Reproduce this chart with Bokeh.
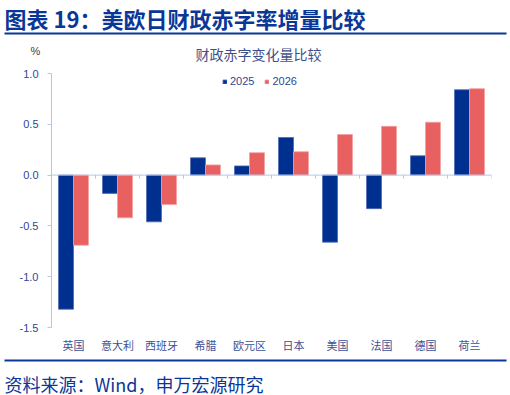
from bokeh.plotting import figure
from bokeh.layouts import column, row
from bokeh.models import (ColumnDataSource, FactorRange, Range1d, FixedTicker, Span, Label,
                          BoxAnnotation, Legend, LegendItem, NumeralTickFormatter)
from bokeh.transform import dodge
from bokeh.embed import file_html
from bokeh.resources import INLINE

categories = ["英国", "意大利", "西班牙", "希腊", "欧元区", "日本", "美国", "法国", "德国", "荷兰"]
v2025 = [-1.32, -0.18, -0.46, 0.17, 0.09, 0.37, -0.66, -0.33, 0.19, 0.84]
v2026 = [-0.69, -0.42, -0.29, 0.10, 0.22, 0.23, 0.40, 0.48, 0.52, 0.85]
y_ticks = [-1.5, -1.0, -0.5, 0.0, 0.5, 1.0]
series_names = ["2025", "2026"]

W = 510
H_HEAD, H_MAIN, H_FOOT = 65, 290, 40
BLUE = "#00308f"
RED = "#e86060"
AXIS_LINE = "#b4c7e7"
TXT = "#2b4896"
DARK = "#0a3797"
CJK = "Noto Sans CJK SC"


def blank(h):
    f = figure(width=W, height=h, x_range=Range1d(0, W), y_range=Range1d(h, 0), title=None,
               x_axis_type=None, y_axis_type=None, output_backend="svg", toolbar_location=None,
               min_border=0, min_border_left=0, min_border_right=0, min_border_top=0,
               min_border_bottom=0)
    f.outline_line_color = None
    f.grid.visible = False
    return f


# header: title, rule, chart title, unit
head = blank(H_HEAD)
head.add_layout(Label(x=4, y=17, text="图表 19：美欧日财政赤字率增量比较", text_font=CJK,
                      text_font_size="22px", text_font_style="bold", text_color=DARK,
                      text_baseline="middle", text_align="left"))
head.add_layout(BoxAnnotation(left=4, right=506, top=32, bottom=34,
                              fill_color=DARK, fill_alpha=1, line_color=None))
head.add_layout(Label(x=258, y=53, text="财政赤字变化量比较", text_font=CJK,
                      text_font_size="14px", text_color="#3d4f8a",
                      text_baseline="middle", text_align="center"))
head.add_layout(Label(x=35, y=50, text="%", text_font="Liberation Sans",
                      text_font_size="11px", text_color="#404040",
                      text_baseline="middle", text_align="center"))

# main chart
src = ColumnDataSource(dict(cat=categories, a=v2025, b=v2026))
p = figure(width=W, height=H_MAIN, x_range=FactorRange(factors=categories, range_padding=0),
           y_range=Range1d(y_ticks[0], y_ticks[-1]), title=None,
           output_backend="svg", toolbar_location=None,
           min_border_left=51, min_border_right=19, min_border_top=8, min_border_bottom=27)
p.outline_line_color = None
p.grid.visible = False

r1 = p.vbar(x=dodge("cat", -0.17, range=p.x_range), top="a", bottom=0, width=0.34, source=src,
            fill_color=BLUE, line_color="#4a69b4", line_width=0.8)
r2 = p.vbar(x=dodge("cat", 0.17, range=p.x_range), top="b", bottom=0, width=0.34, source=src,
            fill_color=RED, line_color="#f3a0a0", line_width=0.8)

p.add_layout(Span(location=0, dimension="width", line_color=AXIS_LINE, line_width=1))
bounds = list(range(len(categories) + 1))
p.segment(x0=bounds, y0=[0] * len(bounds), x1=bounds, y1=[-0.035] * len(bounds),
          line_color=AXIS_LINE, line_width=1)

ya = p.yaxis[0]
ya.ticker = FixedTicker(ticks=y_ticks)
ya.formatter = NumeralTickFormatter(format="0.0")
ya.axis_line_color = AXIS_LINE
ya.major_tick_line_color = AXIS_LINE
ya.major_tick_out = 4
ya.major_tick_in = 0
ya.minor_tick_line_color = None
ya.major_label_text_font = "Liberation Sans"
ya.major_label_text_font_size = "11px"
ya.major_label_text_color = TXT
ya.major_label_standoff = 9

xa = p.xaxis[0]
xa.axis_line_color = None
xa.major_tick_line_color = None
xa.major_tick_out = 0
xa.major_label_standoff = 9
xa.major_label_text_font = CJK
xa.major_label_text_font_size = "11px"
xa.major_label_text_color = "#3b5196"

legend = Legend(items=[LegendItem(label=series_names[0], renderers=[r1]),
                       LegendItem(label=series_names[1], renderers=[r2])],
                location=(171, 240), orientation="horizontal",
                glyph_width=5, glyph_height=5, label_height=5, label_standoff=3, spacing=10,
                padding=0, margin=0, border_line_color=None, background_fill_alpha=0,
                label_text_font="Liberation Sans", label_text_font_size="11px",
                label_text_color=TXT)
p.add_layout(legend, "center")

# footer: rule and source
foot = blank(H_FOOT)
foot.add_layout(BoxAnnotation(left=4, right=506, top=4, bottom=6,
                              fill_color=DARK, fill_alpha=1, line_color=None))
foot.add_layout(Label(x=4, y=28, text="资料来源：Wind，申万宏源研究", text_font=CJK,
                      text_font_size="18px", text_color=DARK,
                      text_baseline="middle", text_align="left"))

layout = column(column(head), p, row(foot), spacing=0)
open("out.html", "w").write(file_html(layout, INLINE))
